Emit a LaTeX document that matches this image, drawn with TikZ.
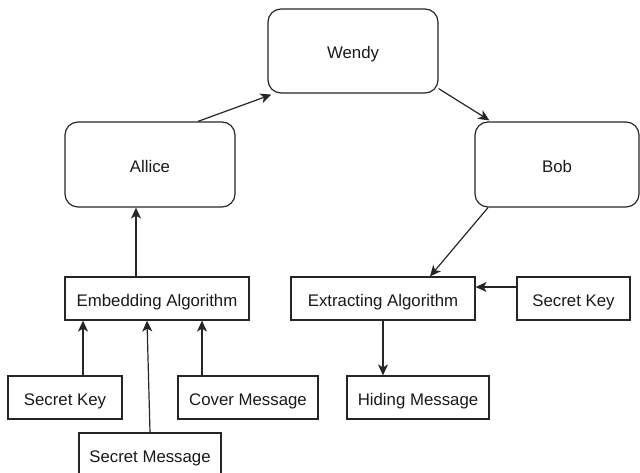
\documentclass[tikz,border=0pt]{standalone}
\usepackage{fontspec}
\setmainfont{Liberation Sans}
\usetikzlibrary{arrows.meta,calc}
\begin{document}
\begin{tikzpicture}[x=1pt,y=-1pt,
  every node/.style={font=\fontsize{16.8}{20}\selectfont, text=black!90,
    inner sep=0pt, text height=15pt, text depth=0pt},
  party/.style={draw=black!85, line width=1.2pt, rounded corners=13pt,
    minimum width=170pt, minimum height=84pt},
  box/.style={draw=black!85, line width=1.2pt, minimum height=43pt},
  link/.style={draw=black!85, line width=1.2pt,
    -{Stealth[length=11pt,width=10pt,inset=3pt]}}
]
\useasboundingbox (0,0) rectangle (640,472);
\clip (0,0) rectangle (640,472);

% the three parties
\node[party] (wendy) at (353,51) {Wendy};
\node[party, minimum height=85pt] (allice) at (150,164.5) {Allice};
\node[party, minimum width=164pt, minimum height=85pt] (bob) at (557,164.5) {Bob};

% algorithms and their inputs / outputs
\node[box, minimum width=184pt] (embed) at (157,298.5) {Embedding Algorithm};
\node[box, minimum width=184pt] (extract) at (383,298.5) {Extracting Algorithm};
\node[box, minimum width=113pt] (keyr) at (573.5,298.5) {Secret Key};
\node[box, minimum width=114pt] (keyl) at (65,397.5) {Secret Key};
\node[box, minimum width=140pt] (cover) at (248,397.5) {Cover Message};
\node[box, minimum width=142pt] (hiding) at (418,397.5) {Hiding Message};
\node[box, minimum width=142pt] (smsg) at (150,454.5) {Secret Message};

% message flow
\draw[link] ([xshift=48pt]allice.north) -- ([xshift=4pt,yshift=-1pt]wendy.south west);
\draw[link] ([yshift=5pt]wendy.south east) -- ([xshift=15pt,yshift=1pt]bob.north west);
\draw[link] ([xshift=-69pt]bob.south) -- ([xshift=47pt]extract.north);
\draw[link] ([yshift=11.5pt]keyr.west) -- ([yshift=11.5pt]extract.east);
\draw[link] (extract.south) -- (extract.south |- hiding.north);
\draw[link] ([xshift=-21pt]embed.north) -- ([xshift=-21pt]embed.north |- allice.south);
\draw[link] ([xshift=18pt]keyl.north) -- ([xshift=18pt]keyl.north |- embed.south);
\draw[link] (smsg.north) -- ([xshift=-10pt]embed.south);
\draw[link] ([xshift=-46pt]cover.north) -- ([xshift=-46pt]cover.north |- embed.south);
\end{tikzpicture}
\end{document}
